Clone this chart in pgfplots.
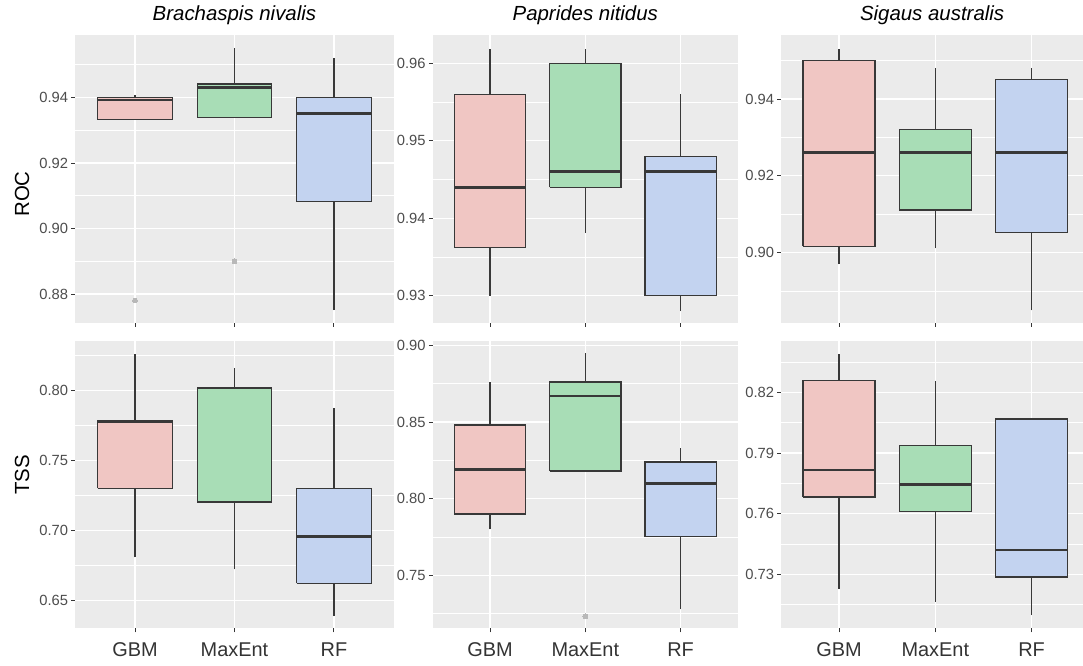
\documentclass[border=0pt]{standalone}
\usepackage{fontspec}
\setmainfont{Liberation Sans}
\usepackage{pgfplots}
\pgfplotsset{compat=1.18}
\definecolor{ggbg}{HTML}{EBEBEB}
\definecolor{boxline}{HTML}{383838}
\definecolor{gbmfill}{HTML}{F0C6C3}
\definecolor{maxfill}{HTML}{A8DDB6}
\definecolor{rffill}{HTML}{C3D3F0}
\definecolor{outl}{HTML}{B8B8B8}
\definecolor{ticklab}{HTML}{4D4D4D}
\definecolor{xlab}{HTML}{333333}
% #1 position, #2 box left, #3 box right, #4 fill,
% #5 lower whisker, #6 lower quartile, #7 median, #8 upper quartile, #9 upper whisker
\newcommand{\gbox}[9]{%
  \addplot[draw=boxline, line width=1.3bp] coordinates {(#1,#5) (#1,#6)};
  \addplot[draw=boxline, line width=1.3bp] coordinates {(#1,#8) (#1,#9)};
  \addplot[draw=boxline, fill=#4, line width=1.3bp, line join=miter] coordinates {(#2,#6) (#3,#6) (#3,#8) (#2,#8) (#2,#6)};
  \addplot[draw=boxline, line width=2.6bp] coordinates {(#2,#7) (#3,#7)};
}
\newcommand{\outliers}[1]{\addplot[only marks, mark=*, mark size=2.4bp, mark options={draw=outl, fill=outl, line width=0pt}] coordinates {#1};}
\pgfplotsset{
  ggpanel/.style={
    scale only axis,
    axis background/.style={fill=ggbg},
    axis line style={draw=none},
    xmin=0.4, xmax=3.6,
    xtick={1,2,3},
    xmajorgrids, ymajorgrids, yminorgrids,
    major grid style={white, line width=1.2bp},
    minor grid style={white, line width=0.6bp},
    tick align=outside,
    xtick pos=lower, ytick pos=left,
    major tick length=4bp,
    tick style={color=ticklab!70!black, line width=0.9bp},
    minor tick style={draw=none},
    yticklabel style={font=\fontsize{14.8}{14.8}\selectfont, text=ticklab, inner sep=0pt, xshift=-3bp},
    xticklabel style={font=\fontsize{20}{20}\selectfont, text=xlab, inner sep=0pt, yshift=-10bp},
    /pgf/number format/.cd, fixed, fixed zerofill, precision=2, assume math mode=true,
    /pgfplots/.cd,
    title style={font=\fontsize{20.5}{20.5}\selectfont\itshape, at={(axis description cs:0.5,1)}, anchor=base, yshift=9bp},
    ylabel style={font=\fontsize{20.5}{20.5}\selectfont, text=black},
  },
  toprow/.style={height=288bp, xticklabels={}},
  botrow/.style={height=287.3bp, xticklabels={GBM,MaxEnt,RF}},
}
\begin{document}
\begin{tikzpicture}
% ---------------- ROC, Brachaspis nivalis
\begin{axis}[ggpanel, toprow, at={(75.3bp,343bp)}, anchor=south west, width=318.3bp,
  ymin=0.87114, ymax=0.9591,
  ytick={0.88,0.90,0.92,0.94}, minor ytick={0.87,0.89,0.91,0.93,0.95},
  title={Brachaspis nivalis},
  ylabel={ROC}, ylabel style={at={(axis description cs:-0.1675,0.448)}, anchor=center}]
\gbox{1}{0.625}{1.375}{gbmfill}{0.9332}{0.9332}{0.9392}{0.9400}{0.9409}
\gbox{2}{1.625}{2.375}{maxfill}{0.9340}{0.9340}{0.9431}{0.9441}{0.9551}
\gbox{3}{2.625}{3.375}{rffill}{0.8751}{0.9082}{0.9351}{0.9400}{0.9520}
\outliers{(1,0.878) (2,0.890)}
\end{axis}
% ---------------- ROC, Paprides nitidus
\begin{axis}[ggpanel, toprow, at={(432.8bp,343bp)}, anchor=south west, width=305bp,
  ymin=0.92648, ymax=0.96365,
  ytick={0.93,0.94,0.95,0.96}, minor ytick={0.935,0.945,0.955},
  title={Paprides nitidus}]
\gbox{1}{0.625}{1.375}{gbmfill}{0.9300}{0.9362}{0.9440}{0.9560}{0.9618}
\gbox{2}{1.625}{2.375}{maxfill}{0.9381}{0.9440}{0.9460}{0.9600}{0.9618}
\gbox{3}{2.625}{3.375}{rffill}{0.9280}{0.9300}{0.9460}{0.9480}{0.9560}
\end{axis}
% ---------------- ROC, Sigaus australis
\begin{axis}[ggpanel, toprow, at={(781.2bp,343bp)}, anchor=south west, width=301.8bp, xmax=3.534,
  ymin=0.8817, ymax=0.95667,
  ytick={0.90,0.92,0.94}, minor ytick={0.89,0.91,0.93,0.95},
  title={Sigaus australis}]
\gbox{1}{0.625}{1.375}{gbmfill}{0.8970}{0.9017}{0.9261}{0.9500}{0.9529}
\gbox{2}{1.625}{2.375}{maxfill}{0.9011}{0.9111}{0.9261}{0.9321}{0.9480}
\gbox{3}{2.625}{3.375}{rffill}{0.8850}{0.9053}{0.9261}{0.9450}{0.9480}
\end{axis}
% ---------------- TSS, Brachaspis nivalis
\begin{axis}[ggpanel, botrow, at={(75.3bp,37.7bp)}, anchor=south west, width=318.3bp,
  ymin=0.6303, ymax=0.8355,
  ytick={0.65,0.70,0.75,0.80}, minor ytick={0.675,0.725,0.775,0.825},
  ylabel={TSS}, ylabel style={at={(axis description cs:-0.1675,0.5336)}, anchor=center}]
\gbox{1}{0.625}{1.375}{gbmfill}{0.6810}{0.7302}{0.7780}{0.7784}{0.8260}
\gbox{2}{1.625}{2.375}{maxfill}{0.6724}{0.7200}{0.7205}{0.8020}{0.8160}
\gbox{3}{2.625}{3.375}{rffill}{0.6390}{0.6624}{0.6960}{0.7300}{0.7880}
\end{axis}
% ---------------- TSS, Paprides nitidus
\begin{axis}[ggpanel, botrow, at={(432.8bp,37.7bp)}, anchor=south west, width=305bp,
  ymin=0.7155, ymax=0.9028,
  ytick={0.75,0.80,0.85,0.90}, minor ytick={0.725,0.775,0.825,0.875}]
\gbox{1}{0.625}{1.375}{gbmfill}{0.7800}{0.7900}{0.8192}{0.8480}{0.8760}
\gbox{2}{1.625}{2.375}{maxfill}{0.8180}{0.8180}{0.8670}{0.8760}{0.8948}
\gbox{3}{2.625}{3.375}{rffill}{0.7280}{0.7752}{0.8100}{0.8240}{0.8330}
\outliers{(2,0.7233)}
\end{axis}
% ---------------- TSS, Sigaus australis
\begin{axis}[ggpanel, botrow, at={(781.2bp,37.7bp)}, anchor=south west, width=301.8bp, xmax=3.534,
  ymin=0.7033, ymax=0.8454,
  ytick={0.73,0.76,0.79,0.82}, minor ytick={0.715,0.745,0.775,0.805,0.835}]
\gbox{1}{0.625}{1.375}{gbmfill}{0.7229}{0.7683}{0.7816}{0.8260}{0.8390}
\gbox{2}{1.625}{2.375}{maxfill}{0.7165}{0.7612}{0.7745}{0.7936}{0.8257}
\gbox{3}{2.625}{3.375}{rffill}{0.7098}{0.7287}{0.7420}{0.8068}{0.8068}
\end{axis}
\pgfresetboundingbox
\path[use as bounding box] (0,0) rectangle (1083bp,666bp);
\end{tikzpicture}
\end{document}
